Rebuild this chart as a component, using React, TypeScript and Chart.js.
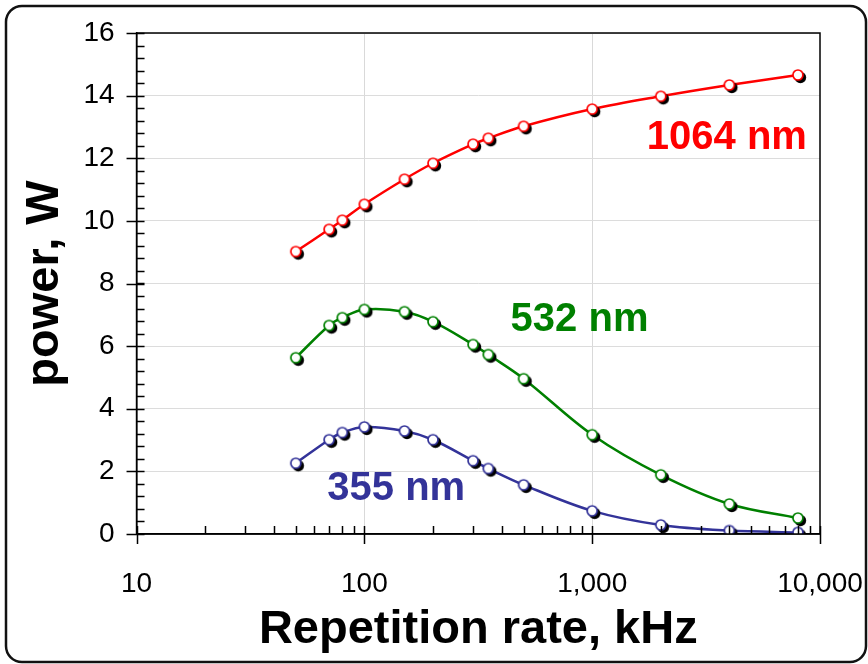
import React, { useEffect, useRef } from "react";
import { Chart, registerables } from "chart.js";
Chart.register(...registerables);

// ---- data ----
const repRateKHz = [50, 70, 80, 100, 150, 200, 300, 350, 500, 1000, 2000, 4000, 8000];
const power1064 = [9.02, 9.73, 10.02, 10.53, 11.33, 11.84, 12.45, 12.64, 13.02, 13.57, 13.98, 14.34, 14.66];
const power532 = [5.63, 6.66, 6.91, 7.17, 7.1, 6.78, 6.05, 5.73, 4.96, 3.17, 1.89, 0.96, 0.51];
const power355 = [2.26, 3.01, 3.24, 3.42, 3.29, 3.01, 2.34, 2.09, 1.57, 0.74, 0.29, 0.11, 0.05];
const seriesLabels = ["1064 nm", "532 nm", "355 nm"];
const seriesColors = ["#ff0000", "#008000", "#333399"];
// label anchor (x in kHz, y in W)
const labelX = [3900, 880, 138];
const labelY = [12.64, 6.82, 1.44];
const xTickValues = [10, 100, 1000, 10000];
const xTickLabels = ["10", "100", "1,000", "10,000"];
const xMinorTicks = [20, 30, 40, 50, 60, 70, 80, 90, 200, 300, 400, 500, 600, 700, 800, 900, 2000, 3000, 4000, 5000, 6000, 7000, 8000, 9000];
const yMajorStep = 2;
const yMinorStep = 0.4;
const yMin = 0;
const yMax = 16;

const FONT = "'Liberation Sans', Arial, Helvetica, sans-serif";

function makeMarker(color: string) {
  const c = document.createElement("canvas");
  c.width = 22;
  c.height = 22;
  const g = c.getContext("2d")!;
  g.fillStyle = "#000";
  g.beginPath();
  g.arc(13.5, 13.5, 5.7, 0, Math.PI * 2);
  g.fill();
  g.fillStyle = "#fff";
  g.strokeStyle = color;
  g.lineWidth = 1.7;
  g.beginPath();
  g.arc(11, 11, 5, 0, Math.PI * 2);
  g.fill();
  g.stroke();
  return c;
}

const decorPlugin = {
  id: "decor",
  afterDatasetsDraw(chart: any) {
    const { ctx, scales } = chart;
    const xs = scales.x;
    const ys = scales.y;
    ctx.save();
    ctx.font = `bold 40px ${FONT}`;
    ctx.textAlign = "center";
    ctx.textBaseline = "middle";
    for (let i = 0; i < seriesLabels.length; i++) {
      ctx.fillStyle = seriesColors[i];
      ctx.fillText(seriesLabels[i], xs.getPixelForValue(labelX[i]), ys.getPixelForValue(labelY[i]));
    }
    ctx.restore();
  },
  afterDraw(chart: any) {
    const { ctx, chartArea, scales } = chart;
    const xs = scales.x;
    const ys = scales.y;
    const { left, right, top, bottom } = chartArea;
    ctx.save();
    ctx.strokeStyle = "#000";
    ctx.lineWidth = 1.5;
    ctx.strokeRect(left, top, right - left, bottom - top);
    ctx.beginPath();
    for (let v = yMin; v <= yMax + 1e-6; v += yMinorStep) {
      const y = Math.round(ys.getPixelForValue(v)) + 0.5;
      ctx.moveTo(left, y);
      ctx.lineTo(left + 8, y);
    }
    for (let v = yMin; v <= yMax + 1e-6; v += yMajorStep) {
      const y = Math.round(ys.getPixelForValue(v)) + 0.5;
      ctx.moveTo(left - 10, y);
      ctx.lineTo(left + 8, y);
    }
    for (const v of xMinorTicks) {
      const x = Math.round(xs.getPixelForValue(v)) + 0.5;
      ctx.moveTo(x, bottom);
      ctx.lineTo(x, bottom - 8);
    }
    for (const v of xTickValues) {
      const x = Math.round(xs.getPixelForValue(v)) + 0.5;
      ctx.moveTo(x, bottom - 8);
      ctx.lineTo(x, bottom + 10);
    }
    ctx.stroke();
    // outer rounded border
    const w = chart.width;
    const h = chart.height;
    const r = 16;
    const x0 = 6, y0 = 6, x1 = w - 2, y1 = h - 2;
    ctx.lineWidth = 2.5;
    ctx.strokeStyle = "#111";
    ctx.beginPath();
    ctx.moveTo(x0 + r, y0);
    ctx.lineTo(x1 - r, y0);
    ctx.arcTo(x1, y0, x1, y0 + r, r);
    ctx.lineTo(x1, y1 - r);
    ctx.arcTo(x1, y1, x1 - r, y1, r);
    ctx.lineTo(x0 + r, y1);
    ctx.arcTo(x0, y1, x0, y1 - r, r);
    ctx.lineTo(x0, y0 + r);
    ctx.arcTo(x0, y0, x0 + r, y0, r);
    ctx.closePath();
    ctx.stroke();
    ctx.restore();
  },
};

export default function App() {
  const ref = useRef<HTMLCanvasElement>(null);
  useEffect(() => {
    const series = [power1064, power532, power355];
    const chart = new Chart(ref.current!, {
      type: "line",
      data: {
        labels: repRateKHz,
        datasets: series.map((s, i) => ({
          label: seriesLabels[i],
          data: repRateKHz.map((x, j) => ({ x, y: s[j] })),
          borderColor: seriesColors[i],
          borderWidth: 2.5,
          tension: 0.35,
          pointStyle: makeMarker(seriesColors[i]) as any,
          pointRadius: 6,
          fill: false,
        })),
      },
      options: {
        animation: false,
        responsive: false,
        layout: { padding: { left: 13, right: 48, top: 33, bottom: 0 } },
        plugins: { legend: { display: false }, tooltip: { enabled: false } },
        scales: {
          x: {
            type: "logarithmic",
            min: 10,
            max: 10000,
            afterBuildTicks: (s: any) => {
              s.ticks = xTickValues.map((v) => ({ value: v }));
            },
            afterFit: (s: any) => {
              s.paddingLeft = 0;
              s.paddingRight = 0;
            },
            ticks: {
              autoSkip: false,
              maxRotation: 0,
              padding: 33,
              color: "#000",
              font: { family: FONT, size: 28 },
              callback: (_v: any, i: number) => xTickLabels[i],
            },
            grid: {
              drawTicks: false,
              color: (c: any) => (c.tick && (c.tick.value === 100 || c.tick.value === 1000) ? "#d9d9d9" : "rgba(0,0,0,0)"),
              lineWidth: 1,
            },
            border: { display: true, color: "#000", width: 1.5 },
            title: {
              display: true,
              text: "Repetition rate, kHz",
              color: "#000",
              font: { family: FONT, size: 47, weight: "bold" },
              padding: { top: -32, bottom: 6 },
            },
          },
          y: {
            min: yMin,
            max: yMax,
            afterFit: (s: any) => {
              s.paddingTop = 0;
              s.paddingBottom = 0;
            },
            ticks: {
              stepSize: yMajorStep,
              padding: 22,
              color: "#000",
              font: { family: FONT, size: 28 },
            },
            grid: { drawTicks: false, color: "#dcdcdc", lineWidth: 1 },
            border: { display: true, color: "#000", width: 1.5 },
            title: {
              display: true,
              text: "power, W",
              color: "#000",
              font: { family: FONT, size: 47, weight: "bold" },
              padding: { top: 4, bottom: -12 },
            },
          },
        },
      },
      plugins: [decorPlugin],
    });
    return () => chart.destroy();
  }, []);
  return (
    <div style={{ position: "fixed", left: 0, top: 0, width: 868, height: 664, background: "#fff" }}>
      <canvas ref={ref} width={868} height={664} style={{ display: "block" }} />
    </div>
  );
}
